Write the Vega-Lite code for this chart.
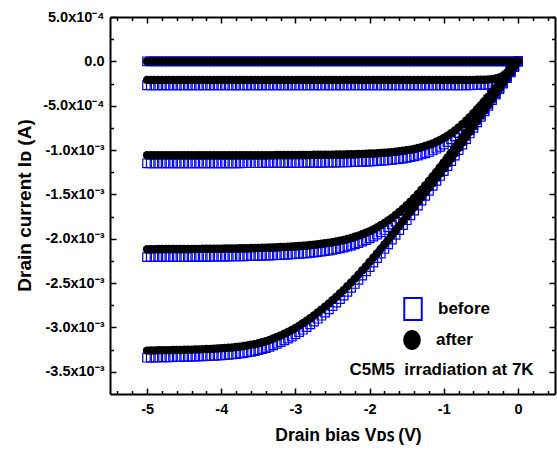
{
"$schema": "https://vega.github.io/schema/vega-lite/v6.json",
"width": 445, "height": 377,
"autosize": {"type": "none"},
"padding": {"left": 110, "top": 17, "right": 2, "bottom": 56},
"background": "white",
"config": {"view": {"stroke": null}, "font": "Liberation Sans",
 "axis": {"domainColor": "black", "domainWidth": 2, "tickColor": "black", "tickWidth": 1.5, "labelFont": "Liberation Sans", "labelFontWeight": "bold", "labelFontSize": 14.5, "labelColor": "black", "titleFont": "Liberation Sans", "titleFontWeight": "bold", "titleColor": "black", "grid": false, "labelOverlap": false, "labelFlush": false},
 "legend": {"labelFontSize": 17, "labelFont": "Liberation Sans", "labelFontWeight": "bold", "labelColor": "black", "labelOffset": 13, "padding": 0, "symbolSize": 484}},
"data": {"values": [
{"v":0,"a1":0,"a2":0,"a3":0,"a4":0,"a5":0,"b1":0,"b2":0,"b3":0,"b4":0,"b5":0},
{"v":-0.05,"a1":0,"a2":-0.045e-3,"a3":-0.05e-3,"a4":-0.0575e-3,"a5":-0.061e-3,"b1":0,"b2":-0.0578e-3,"b3":-0.0542e-3,"b4":-0.0599e-3,"b5":-0.0625e-3},
{"v":-0.1,"a1":0,"a2":-0.0893e-3,"a3":-0.1e-3,"a4":-0.115e-3,"a5":-0.122e-3,"b1":0,"b2":-0.1148e-3,"b3":-0.1085e-3,"b4":-0.1199e-3,"b5":-0.125e-3},
{"v":-0.15,"a1":0,"a2":-0.1298e-3,"a3":-0.15e-3,"a4":-0.1725e-3,"a5":-0.183e-3,"b1":0,"b2":-0.1669e-3,"b3":-0.1627e-3,"b4":-0.1798e-3,"b5":-0.1874e-3},
{"v":-0.2,"a1":0,"a2":-0.1616e-3,"a3":-0.1999e-3,"a4":-0.23e-3,"a5":-0.244e-3,"b1":0,"b2":-0.2078e-3,"b3":-0.2169e-3,"b4":-0.2398e-3,"b5":-0.2499e-3},
{"v":-0.25,"a1":0,"a2":-0.1824e-3,"a3":-0.2498e-3,"a4":-0.2875e-3,"a5":-0.305e-3,"b1":0,"b2":-0.2345e-3,"b3":-0.271e-3,"b4":-0.2997e-3,"b5":-0.3124e-3},
{"v":-0.3,"a1":0,"a2":-0.1943e-3,"a3":-0.2995e-3,"a4":-0.345e-3,"a5":-0.366e-3,"b1":0,"b2":-0.2498e-3,"b3":-0.3249e-3,"b4":-0.3596e-3,"b5":-0.3749e-3},
{"v":-0.35,"a1":0,"a2":-0.2007e-3,"a3":-0.349e-3,"a4":-0.4025e-3,"a5":-0.427e-3,"b1":0,"b2":-0.258e-3,"b3":-0.3786e-3,"b4":-0.4196e-3,"b5":-0.4374e-3},
{"v":-0.4,"a1":0,"a2":-0.2043e-3,"a3":-0.398e-3,"a4":-0.46e-3,"a5":-0.488e-3,"b1":0,"b2":-0.2627e-3,"b3":-0.4318e-3,"b4":-0.4795e-3,"b5":-0.4999e-3},
{"v":-0.45,"a1":0,"a2":-0.2064e-3,"a3":-0.4464e-3,"a4":-0.5174e-3,"a5":-0.549e-3,"b1":0,"b2":-0.2654e-3,"b3":-0.4843e-3,"b4":-0.5394e-3,"b5":-0.5623e-3},
{"v":-0.5,"a1":0,"a2":-0.2076e-3,"a3":-0.494e-3,"a4":-0.5748e-3,"a5":-0.61e-3,"b1":0,"b2":-0.2669e-3,"b3":-0.5359e-3,"b4":-0.5992e-3,"b5":-0.6248e-3},
{"v":-0.55,"a1":0,"a2":-0.2083e-3,"a3":-0.5405e-3,"a4":-0.6322e-3,"a5":-0.671e-3,"b1":0,"b2":-0.2678e-3,"b3":-0.5864e-3,"b4":-0.659e-3,"b5":-0.6873e-3},
{"v":-0.6,"a1":0,"a2":-0.2088e-3,"a3":-0.5855e-3,"a4":-0.6895e-3,"a5":-0.732e-3,"b1":0,"b2":-0.2685e-3,"b3":-0.6352e-3,"b4":-0.7188e-3,"b5":-0.7498e-3},
{"v":-0.65,"a1":0,"a2":-0.2091e-3,"a3":-0.6289e-3,"a4":-0.7467e-3,"a5":-0.793e-3,"b1":0,"b2":-0.2688e-3,"b3":-0.6823e-3,"b4":-0.7784e-3,"b5":-0.8123e-3},
{"v":-0.7,"a1":0,"a2":-0.2094e-3,"a3":-0.6702e-3,"a4":-0.8037e-3,"a5":-0.854e-3,"b1":0,"b2":-0.2692e-3,"b3":-0.7271e-3,"b4":-0.8378e-3,"b5":-0.8748e-3},
{"v":-0.75,"a1":0,"a2":-0.2095e-3,"a3":-0.7092e-3,"a4":-0.8606e-3,"a5":-0.915e-3,"b1":0,"b2":-0.2694e-3,"b3":-0.7694e-3,"b4":-0.8971e-3,"b5":-0.9372e-3},
{"v":-0.8,"a1":0,"a2":-0.2096e-3,"a3":-0.7457e-3,"a4":-0.9172e-3,"a5":-0.9756e-3,"b1":0,"b2":-0.2695e-3,"b3":-0.809e-3,"b4":-0.9561e-3,"b5":-0.9993e-3},
{"v":-0.85,"a1":0,"a2":-0.2097e-3,"a3":-0.7796e-3,"a4":-0.9735e-3,"a5":-1.0364e-3,"b1":0,"b2":-0.2696e-3,"b3":-0.8458e-3,"b4":-1.0148e-3,"b5":-1.0616e-3},
{"v":-0.9,"a1":0,"a2":-0.2098e-3,"a3":-0.8106e-3,"a4":-1.0293e-3,"a5":-1.0971e-3,"b1":0,"b2":-0.2697e-3,"b3":-0.8794e-3,"b4":-1.073e-3,"b5":-1.1238e-3},
{"v":-0.95,"a1":0,"a2":-0.2098e-3,"a3":-0.8388e-3,"a4":-1.0847e-3,"a5":-1.1517e-3,"b1":0,"b2":-0.2697e-3,"b3":-0.91e-3,"b4":-1.1307e-3,"b5":-1.1797e-3},
{"v":-1,"a1":0,"a2":-0.2098e-3,"a3":-0.8643e-3,"a4":-1.1395e-3,"a5":-1.2063e-3,"b1":0,"b2":-0.2697e-3,"b3":-0.9377e-3,"b4":-1.1879e-3,"b5":-1.2356e-3},
{"v":-1.05,"a1":0,"a2":-0.2099e-3,"a3":-0.8871e-3,"a4":-1.1935e-3,"a5":-1.2607e-3,"b1":0,"b2":-0.2699e-3,"b3":-0.9624e-3,"b4":-1.2442e-3,"b5":-1.2913e-3},
{"v":-1.1,"a1":0,"a2":-0.2099e-3,"a3":-0.9074e-3,"a4":-1.2467e-3,"a5":-1.315e-3,"b1":0,"b2":-0.2699e-3,"b3":-0.9844e-3,"b4":-1.2996e-3,"b5":-1.347e-3},
{"v":-1.15,"a1":0,"a2":-0.2099e-3,"a3":-0.9254e-3,"a4":-1.2988e-3,"a5":-1.3701e-3,"b1":0,"b2":-0.2699e-3,"b3":-1.004e-3,"b4":-1.3539e-3,"b5":-1.4034e-3},
{"v":-1.2,"a1":0,"a2":-0.2099e-3,"a3":-0.9412e-3,"a4":-1.3498e-3,"a5":-1.4239e-3,"b1":0,"b2":-0.2699e-3,"b3":-1.0211e-3,"b4":-1.4071e-3,"b5":-1.4585e-3},
{"v":-1.25,"a1":0,"a2":-0.2099e-3,"a3":-0.9551e-3,"a4":-1.3995e-3,"a5":-1.4786e-3,"b1":0,"b2":-0.2699e-3,"b3":-1.0362e-3,"b4":-1.4589e-3,"b5":-1.5145e-3},
{"v":-1.3,"a1":0,"a2":-0.2099e-3,"a3":-0.9673e-3,"a4":-1.4477e-3,"a5":-1.5329e-3,"b1":0,"b2":-0.2699e-3,"b3":-1.0494e-3,"b4":-1.5092e-3,"b5":-1.5701e-3},
{"v":-1.35,"a1":0,"a2":-0.2099e-3,"a3":-0.978e-3,"a4":-1.4943e-3,"a5":-1.5868e-3,"b1":0,"b2":-0.2699e-3,"b3":-1.061e-3,"b4":-1.5577e-3,"b5":-1.6254e-3},
{"v":-1.4,"a1":0,"a2":-0.2099e-3,"a3":-0.9873e-3,"a4":-1.5391e-3,"a5":-1.6414e-3,"b1":0,"b2":-0.2699e-3,"b3":-1.0711e-3,"b4":-1.6044e-3,"b5":-1.6813e-3},
{"v":-1.45,"a1":0,"a2":-0.2099e-3,"a3":-0.9955e-3,"a4":-1.582e-3,"a5":-1.6945e-3,"b1":0,"b2":-0.2699e-3,"b3":-1.08e-3,"b4":-1.6492e-3,"b5":-1.7357e-3},
{"v":-1.5,"a1":0,"a2":-0.2099e-3,"a3":-1.0026e-3,"a4":-1.6229e-3,"a5":-1.7481e-3,"b1":0,"b2":-0.2699e-3,"b3":-1.0877e-3,"b4":-1.6918e-3,"b5":-1.7906e-3},
{"v":-1.55,"a1":0,"a2":-0.21e-3,"a3":-1.0089e-3,"a4":-1.6617e-3,"a5":-1.8021e-3,"b1":0,"b2":-0.27e-3,"b3":-1.0946e-3,"b4":-1.7323e-3,"b5":-1.8459e-3},
{"v":-1.6,"a1":0,"a2":-0.21e-3,"a3":-1.0143e-3,"a4":-1.6983e-3,"a5":-1.8555e-3,"b1":0,"b2":-0.27e-3,"b3":-1.1004e-3,"b4":-1.7704e-3,"b5":-1.9006e-3},
{"v":-1.65,"a1":0,"a2":-0.21e-3,"a3":-1.0191e-3,"a4":-1.7328e-3,"a5":-1.9081e-3,"b1":0,"b2":-0.27e-3,"b3":-1.1056e-3,"b4":-1.8064e-3,"b5":-1.9545e-3},
{"v":-1.7,"a1":0,"a2":-0.21e-3,"a3":-1.0233e-3,"a4":-1.765e-3,"a5":-1.961e-3,"b1":0,"b2":-0.27e-3,"b3":-1.1102e-3,"b4":-1.8399e-3,"b5":-2.0087e-3},
{"v":-1.75,"a1":0,"a2":-0.21e-3,"a3":-1.027e-3,"a4":-1.795e-3,"a5":-2.013e-3,"b1":0,"b2":-0.27e-3,"b3":-1.1142e-3,"b4":-1.8712e-3,"b5":-2.0619e-3},
{"v":-1.8,"a1":0,"a2":-0.21e-3,"a3":-1.0303e-3,"a4":-1.823e-3,"a5":-2.0641e-3,"b1":0,"b2":-0.27e-3,"b3":-1.1178e-3,"b4":-1.9004e-3,"b5":-2.1143e-3},
{"v":-1.85,"a1":0,"a2":-0.21e-3,"a3":-1.0332e-3,"a4":-1.8488e-3,"a5":-2.1151e-3,"b1":0,"b2":-0.27e-3,"b3":-1.1209e-3,"b4":-1.9273e-3,"b5":-2.1665e-3},
{"v":-1.9,"a1":0,"a2":-0.21e-3,"a3":-1.0358e-3,"a4":-1.8727e-3,"a5":-2.165e-3,"b1":0,"b2":-0.27e-3,"b3":-1.1237e-3,"b4":-1.9522e-3,"b5":-2.2176e-3},
{"v":-1.95,"a1":0,"a2":-0.21e-3,"a3":-1.038e-3,"a4":-1.8945e-3,"a5":-2.2147e-3,"b1":0,"b2":-0.27e-3,"b3":-1.1261e-3,"b4":-1.9749e-3,"b5":-2.2685e-3},
{"v":-2,"a1":0,"a2":-0.21e-3,"a3":-1.0401e-3,"a4":-1.9145e-3,"a5":-2.2632e-3,"b1":0,"b2":-0.27e-3,"b3":-1.1284e-3,"b4":-1.9958e-3,"b5":-2.3182e-3},
{"v":-2.05,"a1":0,"a2":-0.21e-3,"a3":-1.0419e-3,"a4":-1.9327e-3,"a5":-2.3114e-3,"b1":0,"b2":-0.27e-3,"b3":-1.1304e-3,"b4":-2.0147e-3,"b5":-2.3676e-3},
{"v":-2.1,"a1":0,"a2":-0.21e-3,"a3":-1.0435e-3,"a4":-1.9494e-3,"a5":-2.3582e-3,"b1":0,"b2":-0.27e-3,"b3":-1.1321e-3,"b4":-2.0322e-3,"b5":-2.4155e-3},
{"v":-2.15,"a1":0,"a2":-0.21e-3,"a3":-1.0449e-3,"a4":-1.9646e-3,"a5":-2.4046e-3,"b1":0,"b2":-0.27e-3,"b3":-1.1336e-3,"b4":-2.048e-3,"b5":-2.463e-3},
{"v":-2.2,"a1":0,"a2":-0.21e-3,"a3":-1.0462e-3,"a4":-1.9784e-3,"a5":-2.4494e-3,"b1":0,"b2":-0.27e-3,"b3":-1.135e-3,"b4":-2.0624e-3,"b5":-2.5089e-3},
{"v":-2.25,"a1":0,"a2":-0.21e-3,"a3":-1.0474e-3,"a4":-1.9909e-3,"a5":-2.4928e-3,"b1":0,"b2":-0.27e-3,"b3":-1.1363e-3,"b4":-2.0754e-3,"b5":-2.5534e-3},
{"v":-2.3,"a1":0,"a2":-0.21e-3,"a3":-1.0484e-3,"a4":-2.0023e-3,"a5":-2.5356e-3,"b1":0,"b2":-0.27e-3,"b3":-1.1374e-3,"b4":-2.0873e-3,"b5":-2.5972e-3},
{"v":-2.35,"a1":0,"a2":-0.21e-3,"a3":-1.0493e-3,"a4":-2.0126e-3,"a5":-2.5768e-3,"b1":0,"b2":-0.27e-3,"b3":-1.1384e-3,"b4":-2.098e-3,"b5":-2.6394e-3},
{"v":-2.4,"a1":0,"a2":-0.21e-3,"a3":-1.0502e-3,"a4":-2.0219e-3,"a5":-2.6165e-3,"b1":0,"b2":-0.27e-3,"b3":-1.1394e-3,"b4":-2.1077e-3,"b5":-2.6801e-3},
{"v":-2.45,"a1":0,"a2":-0.21e-3,"a3":-1.0509e-3,"a4":-2.0304e-3,"a5":-2.6554e-3,"b1":0,"b2":-0.27e-3,"b3":-1.1401e-3,"b4":-2.1166e-3,"b5":-2.7199e-3},
{"v":-2.5,"a1":0,"a2":-0.21e-3,"a3":-1.0516e-3,"a4":-2.0381e-3,"a5":-2.6939e-3,"b1":0,"b2":-0.27e-3,"b3":-1.1409e-3,"b4":-2.1246e-3,"b5":-2.7594e-3},
{"v":-2.55,"a1":0,"a2":-0.21e-3,"a3":-1.0522e-3,"a4":-2.045e-3,"a5":-2.7298e-3,"b1":0,"b2":-0.27e-3,"b3":-1.1415e-3,"b4":-2.1318e-3,"b5":-2.7961e-3},
{"v":-2.6,"a1":0,"a2":-0.21e-3,"a3":-1.0528e-3,"a4":-2.0513e-3,"a5":-2.765e-3,"b1":0,"b2":-0.27e-3,"b3":-1.1422e-3,"b4":-2.1384e-3,"b5":-2.8322e-3},
{"v":-2.65,"a1":0,"a2":-0.21e-3,"a3":-1.0533e-3,"a4":-2.057e-3,"a5":-2.7988e-3,"b1":0,"b2":-0.27e-3,"b3":-1.1427e-3,"b4":-2.1443e-3,"b5":-2.8668e-3},
{"v":-2.7,"a1":0,"a2":-0.21e-3,"a3":-1.0538e-3,"a4":-2.0622e-3,"a5":-2.832e-3,"b1":0,"b2":-0.27e-3,"b3":-1.1433e-3,"b4":-2.1497e-3,"b5":-2.9008e-3},
{"v":-2.75,"a1":0,"a2":-0.21e-3,"a3":-1.0542e-3,"a4":-2.0669e-3,"a5":-2.864e-3,"b1":0,"b2":-0.27e-3,"b3":-1.1437e-3,"b4":-2.1546e-3,"b5":-2.9336e-3},
{"v":-2.8,"a1":0,"a2":-0.21e-3,"a3":-1.0546e-3,"a4":-2.0711e-3,"a5":-2.895e-3,"b1":0,"b2":-0.27e-3,"b3":-1.1441e-3,"b4":-2.159e-3,"b5":-2.9653e-3},
{"v":-2.85,"a1":0,"a2":-0.21e-3,"a3":-1.055e-3,"a4":-2.075e-3,"a5":-2.925e-3,"b1":0,"b2":-0.27e-3,"b3":-1.1446e-3,"b4":-2.1631e-3,"b5":-2.9961e-3},
{"v":-2.9,"a1":0,"a2":-0.21e-3,"a3":-1.0553e-3,"a4":-2.0786e-3,"a5":-2.953e-3,"b1":0,"b2":-0.27e-3,"b3":-1.1449e-3,"b4":-2.1668e-3,"b5":-3.0247e-3},
{"v":-2.95,"a1":0,"a2":-0.21e-3,"a3":-1.0556e-3,"a4":-2.0818e-3,"a5":-2.98e-3,"b1":0,"b2":-0.27e-3,"b3":-1.1452e-3,"b4":-2.1702e-3,"b5":-3.0524e-3},
{"v":-3,"a1":0,"a2":-0.21e-3,"a3":-1.0559e-3,"a4":-2.0847e-3,"a5":-3.005e-3,"b1":0,"b2":-0.27e-3,"b3":-1.1455e-3,"b4":-2.1732e-3,"b5":-3.078e-3},
{"v":-3.05,"a1":0,"a2":-0.21e-3,"a3":-1.0562e-3,"a4":-2.0874e-3,"a5":-3.028e-3,"b1":0,"b2":-0.27e-3,"b3":-1.1459e-3,"b4":-2.176e-3,"b5":-3.1016e-3},
{"v":-3.1,"a1":0,"a2":-0.21e-3,"a3":-1.0564e-3,"a4":-2.0898e-3,"a5":-3.05e-3,"b1":0,"b2":-0.27e-3,"b3":-1.1461e-3,"b4":-2.1785e-3,"b5":-3.1241e-3},
{"v":-3.15,"a1":0,"a2":-0.21e-3,"a3":-1.0566e-3,"a4":-2.0921e-3,"a5":-3.071e-3,"b1":0,"b2":-0.27e-3,"b3":-1.1463e-3,"b4":-2.1809e-3,"b5":-3.1456e-3},
{"v":-3.2,"a1":0,"a2":-0.21e-3,"a3":-1.0568e-3,"a4":-2.0941e-3,"a5":-3.09e-3,"b1":0,"b2":-0.27e-3,"b3":-1.1465e-3,"b4":-2.183e-3,"b5":-3.1651e-3},
{"v":-3.25,"a1":0,"a2":-0.21e-3,"a3":-1.057e-3,"a4":-2.096e-3,"a5":-3.108e-3,"b1":0,"b2":-0.27e-3,"b3":-1.1467e-3,"b4":-2.185e-3,"b5":-3.1835e-3},
{"v":-3.3,"a1":0,"a2":-0.21e-3,"a3":-1.0572e-3,"a4":-2.0977e-3,"a5":-3.125e-3,"b1":0,"b2":-0.27e-3,"b3":-1.147e-3,"b4":-2.1867e-3,"b5":-3.2009e-3},
{"v":-3.35,"a1":0,"a2":-0.21e-3,"a3":-1.0574e-3,"a4":-2.0992e-3,"a5":-3.141e-3,"b1":0,"b2":-0.27e-3,"b3":-1.1472e-3,"b4":-2.1883e-3,"b5":-3.2173e-3},
{"v":-3.4,"a1":0,"a2":-0.21e-3,"a3":-1.0575e-3,"a4":-2.1007e-3,"a5":-3.155e-3,"b1":0,"b2":-0.27e-3,"b3":-1.1473e-3,"b4":-2.1899e-3,"b5":-3.2317e-3},
{"v":-3.45,"a1":0,"a2":-0.21e-3,"a3":-1.0577e-3,"a4":-2.102e-3,"a5":-3.167e-3,"b1":0,"b2":-0.27e-3,"b3":-1.1475e-3,"b4":-2.1912e-3,"b5":-3.244e-3},
{"v":-3.5,"a1":0,"a2":-0.21e-3,"a3":-1.0578e-3,"a4":-2.1032e-3,"a5":-3.178e-3,"b1":0,"b2":-0.27e-3,"b3":-1.1476e-3,"b4":-2.1925e-3,"b5":-3.2552e-3},
{"v":-3.55,"a1":0,"a2":-0.21e-3,"a3":-1.0579e-3,"a4":-2.1044e-3,"a5":-3.188e-3,"b1":0,"b2":-0.27e-3,"b3":-1.1477e-3,"b4":-2.1937e-3,"b5":-3.2655e-3},
{"v":-3.6,"a1":0,"a2":-0.21e-3,"a3":-1.058e-3,"a4":-2.1054e-3,"a5":-3.196e-3,"b1":0,"b2":-0.27e-3,"b3":-1.1478e-3,"b4":-2.1948e-3,"b5":-3.2737e-3},
{"v":-3.65,"a1":0,"a2":-0.21e-3,"a3":-1.0581e-3,"a4":-2.1063e-3,"a5":-3.203e-3,"b1":0,"b2":-0.27e-3,"b3":-1.1479e-3,"b4":-2.1957e-3,"b5":-3.2809e-3},
{"v":-3.7,"a1":0,"a2":-0.21e-3,"a3":-1.0582e-3,"a4":-2.1072e-3,"a5":-3.21e-3,"b1":0,"b2":-0.27e-3,"b3":-1.148e-3,"b4":-2.1966e-3,"b5":-3.288e-3},
{"v":-3.75,"a1":0,"a2":-0.21e-3,"a3":-1.0583e-3,"a4":-2.108e-3,"a5":-3.216e-3,"b1":0,"b2":-0.27e-3,"b3":-1.1482e-3,"b4":-2.1975e-3,"b5":-3.2942e-3},
{"v":-3.8,"a1":0,"a2":-0.21e-3,"a3":-1.0584e-3,"a4":-2.1088e-3,"a5":-3.221e-3,"b1":0,"b2":-0.27e-3,"b3":-1.1483e-3,"b4":-2.1983e-3,"b5":-3.2993e-3},
{"v":-3.85,"a1":0,"a2":-0.21e-3,"a3":-1.0585e-3,"a4":-2.1095e-3,"a5":-3.225e-3,"b1":0,"b2":-0.27e-3,"b3":-1.1484e-3,"b4":-2.1991e-3,"b5":-3.3034e-3},
{"v":-3.9,"a1":0,"a2":-0.21e-3,"a3":-1.0586e-3,"a4":-2.1101e-3,"a5":-3.229e-3,"b1":0,"b2":-0.27e-3,"b3":-1.1485e-3,"b4":-2.1997e-3,"b5":-3.3075e-3},
{"v":-3.95,"a1":0,"a2":-0.21e-3,"a3":-1.0587e-3,"a4":-2.1107e-3,"a5":-3.232e-3,"b1":0,"b2":-0.27e-3,"b3":-1.1486e-3,"b4":-2.2003e-3,"b5":-3.3106e-3},
{"v":-4,"a1":0,"a2":-0.21e-3,"a3":-1.0587e-3,"a4":-2.1113e-3,"a5":-3.235e-3,"b1":0,"b2":-0.27e-3,"b3":-1.1486e-3,"b4":-2.2009e-3,"b5":-3.3136e-3},
{"v":-4.05,"a1":0,"a2":-0.21e-3,"a3":-1.0588e-3,"a4":-2.1117e-3,"a5":-3.238e-3,"b1":0,"b2":-0.27e-3,"b3":-1.1487e-3,"b4":-2.2013e-3,"b5":-3.3167e-3},
{"v":-4.1,"a1":0,"a2":-0.21e-3,"a3":-1.0588e-3,"a4":-2.1122e-3,"a5":-3.24e-3,"b1":0,"b2":-0.27e-3,"b3":-1.1487e-3,"b4":-2.2019e-3,"b5":-3.3187e-3},
{"v":-4.15,"a1":0,"a2":-0.21e-3,"a3":-1.0589e-3,"a4":-2.1127e-3,"a5":-3.242e-3,"b1":0,"b2":-0.27e-3,"b3":-1.1488e-3,"b4":-2.2024e-3,"b5":-3.3208e-3},
{"v":-4.2,"a1":0,"a2":-0.21e-3,"a3":-1.0589e-3,"a4":-2.1131e-3,"a5":-3.244e-3,"b1":0,"b2":-0.27e-3,"b3":-1.1488e-3,"b4":-2.2028e-3,"b5":-3.3228e-3},
{"v":-4.25,"a1":0,"a2":-0.21e-3,"a3":-1.059e-3,"a4":-2.1135e-3,"a5":-3.246e-3,"b1":0,"b2":-0.27e-3,"b3":-1.1489e-3,"b4":-2.2032e-3,"b5":-3.3249e-3},
{"v":-4.3,"a1":0,"a2":-0.21e-3,"a3":-1.059e-3,"a4":-2.1139e-3,"a5":-3.247e-3,"b1":0,"b2":-0.27e-3,"b3":-1.1489e-3,"b4":-2.2036e-3,"b5":-3.3259e-3},
{"v":-4.35,"a1":0,"a2":-0.21e-3,"a3":-1.0591e-3,"a4":-2.1142e-3,"a5":-3.249e-3,"b1":0,"b2":-0.27e-3,"b3":-1.149e-3,"b4":-2.2039e-3,"b5":-3.3279e-3},
{"v":-4.4,"a1":0,"a2":-0.21e-3,"a3":-1.0591e-3,"a4":-2.1145e-3,"a5":-3.25e-3,"b1":0,"b2":-0.27e-3,"b3":-1.149e-3,"b4":-2.2043e-3,"b5":-3.329e-3},
{"v":-4.45,"a1":0,"a2":-0.21e-3,"a3":-1.0591e-3,"a4":-2.1148e-3,"a5":-3.251e-3,"b1":0,"b2":-0.27e-3,"b3":-1.149e-3,"b4":-2.2046e-3,"b5":-3.33e-3},
{"v":-4.5,"a1":0,"a2":-0.21e-3,"a3":-1.0592e-3,"a4":-2.1151e-3,"a5":-3.252e-3,"b1":0,"b2":-0.27e-3,"b3":-1.1491e-3,"b4":-2.2049e-3,"b5":-3.331e-3},
{"v":-4.55,"a1":0,"a2":-0.21e-3,"a3":-1.0592e-3,"a4":-2.1154e-3,"a5":-3.253e-3,"b1":0,"b2":-0.27e-3,"b3":-1.1491e-3,"b4":-2.2052e-3,"b5":-3.332e-3},
{"v":-4.6,"a1":0,"a2":-0.21e-3,"a3":-1.0593e-3,"a4":-2.1156e-3,"a5":-3.254e-3,"b1":0,"b2":-0.27e-3,"b3":-1.1492e-3,"b4":-2.2054e-3,"b5":-3.3331e-3},
{"v":-4.65,"a1":0,"a2":-0.21e-3,"a3":-1.0593e-3,"a4":-2.1158e-3,"a5":-3.255e-3,"b1":0,"b2":-0.27e-3,"b3":-1.1492e-3,"b4":-2.2056e-3,"b5":-3.3341e-3},
{"v":-4.7,"a1":0,"a2":-0.21e-3,"a3":-1.0593e-3,"a4":-2.1161e-3,"a5":-3.256e-3,"b1":0,"b2":-0.27e-3,"b3":-1.1492e-3,"b4":-2.2059e-3,"b5":-3.3351e-3},
{"v":-4.75,"a1":0,"a2":-0.21e-3,"a3":-1.0594e-3,"a4":-2.1163e-3,"a5":-3.257e-3,"b1":0,"b2":-0.27e-3,"b3":-1.1493e-3,"b4":-2.2061e-3,"b5":-3.3362e-3},
{"v":-4.8,"a1":0,"a2":-0.21e-3,"a3":-1.0594e-3,"a4":-2.1165e-3,"a5":-3.258e-3,"b1":0,"b2":-0.27e-3,"b3":-1.1493e-3,"b4":-2.2064e-3,"b5":-3.3372e-3},
{"v":-4.85,"a1":0,"a2":-0.21e-3,"a3":-1.0594e-3,"a4":-2.1166e-3,"a5":-3.258e-3,"b1":0,"b2":-0.27e-3,"b3":-1.1493e-3,"b4":-2.2065e-3,"b5":-3.3372e-3},
{"v":-4.9,"a1":0,"a2":-0.21e-3,"a3":-1.0595e-3,"a4":-2.1168e-3,"a5":-3.259e-3,"b1":0,"b2":-0.27e-3,"b3":-1.1495e-3,"b4":-2.2067e-3,"b5":-3.3382e-3},
{"v":-4.95,"a1":0,"a2":-0.21e-3,"a3":-1.0595e-3,"a4":-2.117e-3,"a5":-3.26e-3,"b1":0,"b2":-0.27e-3,"b3":-1.1495e-3,"b4":-2.2069e-3,"b5":-3.3392e-3},
{"v":-5,"a1":0,"a2":-0.21e-3,"a3":-1.0595e-3,"a4":-2.1171e-3,"a5":-3.261e-3,"b1":0,"b2":-0.27e-3,"b3":-1.1495e-3,"b4":-2.207e-3,"b5":-3.3402e-3}
]},
"layer": [
 {
  "transform": [{"fold": ["b1","b2","b3"], "as": ["curve","I"]}],
  "mark": {"type": "point", "shape": "square", "filled": false, "strokeWidth": 1.2, "size": 75, "opacity": 1},
  "encoding": {
   "x": {"field": "v", "type": "quantitative", "scale": {"domain": [-5.5, 0.5], "nice": false, "zero": false},
    "axis": {"orient": "bottom", "values": [-5,-4,-3,-2,-1,0],
     "labelExpr": "(datum.value < -0.01 ? '-' : '') + format(abs(datum.value),'.0f')",
     "tickSize": -6, "labelPadding": 14, "title": "Drain bias Vᴅꜱ (V)", "titleFontSize": 17.5, "titleX": 238, "titleY": 46, "titleBaseline": "alphabetic"}},
   "y": {"field": "I", "type": "quantitative", "scale": {"domain": [-0.00375, 0.0005], "nice": false, "zero": false},
    "axis": {"orient": "left", "values": [0.0005,0,-0.0005,-0.001,-0.0015,-0.002,-0.0025,-0.003,-0.0035],
     "labelExpr": "abs(datum.value)<1e-9 ? '0.0' : (datum.value<0 ? '-' : '') + (abs(datum.value)<0.0007 ? format(abs(datum.value)*10000,'.1f')+'x10⁻⁴' : format(abs(datum.value)*1000,'.1f')+'x10⁻³')",
     "tickSize": -6, "labelPadding": 12, "title": "Drain current Iᴅ (A)", "titleFontSize": 19, "titleX": -80, "titleY": 188, "titleBaseline": "alphabetic", "titleAngle": 270}},
   "stroke": {"datum": "before", "type": "nominal", "scale": {"domain": ["before"], "range": ["#0000ff"]},
    "legend": {"orient": "none", "legendX": 291, "legendY": 280, "title": null, "symbolType": "M-0.795,-1H0.795V1H-0.795Z", "symbolFillColor": "transparent", "symbolStrokeWidth": 2, "symbolOpacity": 1}}
  }
 },
 {
  "transform": [{"fold": ["b4","b5"], "as": ["curve","I"]}],
  "mark": {"type": "point", "shape": "square", "filled": false, "color": "#0000ff", "strokeWidth": 1.2, "size": 75, "opacity": 1},
  "encoding": {
   "x": {"field": "v", "type": "quantitative", "scale": {"domain": [-5.5, 0.5], "nice": false, "zero": false},
    "axis": {"orient": "bottom", "values": [-5.4,-5.2,-4.8,-4.6,-4.4,-4.2,-3.8,-3.6,-3.4,-3.2,-2.8,-2.6,-2.4,-2.2,-1.8,-1.6,-1.4,-1.2,-0.8,-0.6,-0.4,-0.2,0.2,0.4], "labels": false, "domain": false, "title": null, "tickSize": -3.5}},
   "y": {"field": "I", "type": "quantitative", "scale": {"domain": [-0.00375, 0.0005], "nice": false, "zero": false},
    "axis": {"orient": "left", "values": [0.00025,-0.00025,-0.00075,-0.00125,-0.00175,-0.00225,-0.00275,-0.00325], "labels": false, "domain": false, "title": null, "tickSize": -3.5}}
  }
 },
 {
  "transform": [{"fold": ["a1","a2","a3","a4","a5"], "as": ["curve","I"]}],
  "mark": {"type": "point", "shape": "circle", "filled": true, "strokeWidth": 0, "size": 72, "opacity": 1},
  "encoding": {
   "x": {"field": "v", "type": "quantitative", "scale": {"domain": [-5.5, 0.5], "nice": false, "zero": false},
    "axis": {"orient": "top", "values": [-5,-4,-3,-2,-1,0], "labels": false, "title": null, "tickSize": -6}},
   "y": {"field": "I", "type": "quantitative", "scale": {"domain": [-0.00375, 0.0005], "nice": false, "zero": false},
    "axis": {"orient": "right", "values": [0.0005,0,-0.0005,-0.001,-0.0015,-0.002,-0.0025,-0.003,-0.0035], "labels": false, "title": null, "tickSize": -6}},
   "fill": {"datum": "after", "type": "nominal", "scale": {"domain": ["after"], "range": ["black"]},
    "legend": {"orient": "none", "legendX": 291, "legendY": 312, "title": null, "symbolType": "M-0.795,0A0.795,0.91 0 1,0 0.795,0A0.795,0.91 0 1,0 -0.795,0Z", "symbolStrokeWidth": 0, "symbolOpacity": 1}}
  }
 },
 {
  "data": {"values": [{"x": -1.03, "y": -0.003538, "t": "C5M5\u00a0 irradiation at 7K"}]},
  "mark": {"type": "text", "font": "Liberation Sans", "fontWeight": "bold", "fontSize": 17, "color": "black", "align": "center", "baseline": "alphabetic"},
  "encoding": {
   "x": {"field": "x", "type": "quantitative", "scale": {"domain": [-5.5, 0.5], "nice": false, "zero": false},
    "axis": {"orient": "top", "values": [-5.4,-5.2,-4.8,-4.6,-4.4,-4.2,-3.8,-3.6,-3.4,-3.2,-2.8,-2.6,-2.4,-2.2,-1.8,-1.6,-1.4,-1.2,-0.8,-0.6,-0.4,-0.2,0.2,0.4], "labels": false, "domain": false, "title": null, "tickSize": -3.5}},
   "y": {"field": "y", "type": "quantitative", "scale": {"domain": [-0.00375, 0.0005], "nice": false, "zero": false},
    "axis": {"orient": "right", "values": [0.00025,-0.00025,-0.00075,-0.00125,-0.00175,-0.00225,-0.00275,-0.00325], "labels": false, "domain": false, "title": null, "tickSize": -3.5}},
   "text": {"field": "t"}
  }
 }
],
"resolve": {"axis": {"x": "independent", "y": "independent"}}
}
